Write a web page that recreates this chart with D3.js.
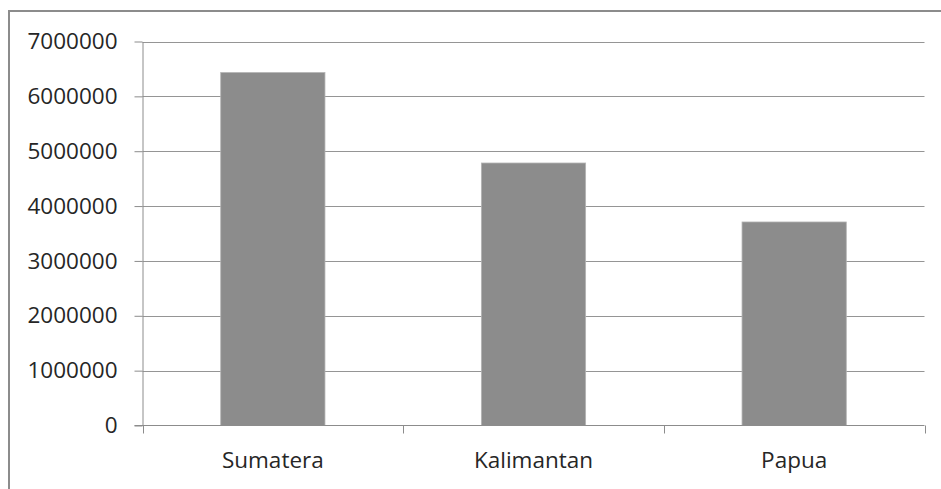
<!DOCTYPE html>
<html>
<head>
<meta charset="utf-8">
<script src="https://cdn.jsdelivr.net/npm/d3@7"></script>
<style>
  html, body { margin: 0; padding: 0; background: #fff; }
  svg { display: block; }
  text { font-family: "Open Sans", Carlito, Calibri, sans-serif; fill: #262626; }
</style>
</head>
<body>
<svg id="chart" width="941" height="489"></svg>
<script>
// Data
const categories = ["Sumatera", "Kalimantan", "Papua"];
const values = [6435000, 4785000, 3710000];
const yTicks = [0, 1000000, 2000000, 3000000, 4000000, 5000000, 6000000, 7000000];

const svg = d3.select("#chart");
const W = 941, H = 489;
const FONT = "'Open Sans', Carlito, Calibri, sans-serif";
const FS = 22.5;

// Chart frame (open to the right and bottom edges of the page)
svg.append("path")
  .attr("d", `M9,${H + 2} V11 H${W + 2}`)
  .attr("fill", "none")
  .attr("stroke", "#8c8c8c")
  .attr("stroke-width", 2);

const plot = { left: 142.5, right: 924.5, top: 41.5, bottom: 425.5 };

const x = d3.scaleBand()
  .domain(categories)
  .range([plot.left, plot.right])
  .paddingInner(0.6)
  .paddingOuter(0.3);

const y = d3.scaleLinear()
  .domain([0, 7000000])
  .range([plot.bottom, plot.top]);

// Horizontal gridlines
svg.append("g")
  .selectAll("line")
  .data(yTicks.filter(d => d > 0))
  .join("line")
  .attr("x1", plot.left)
  .attr("x2", plot.right)
  .attr("y1", d => Math.round(y(d)) + 0.5)
  .attr("y2", d => Math.round(y(d)) + 0.5)
  .attr("stroke", "#959595")
  .attr("stroke-width", 1);

// Bars
svg.append("g")
  .selectAll("rect")
  .data(categories.map((c, i) => ({ c, v: values[i] })))
  .join("rect")
  .attr("x", d => x(d.c))
  .attr("y", d => y(d.v))
  .attr("width", x.bandwidth())
  .attr("height", d => y(0) - y(d.v))
  .attr("fill", "#8c8c8c")
  .attr("stroke", "#b4b4b4")
  .attr("stroke-width", 0.8);

// Y axis
const yAxis = d3.axisLeft(y)
  .tickValues(yTicks)
  .tickFormat(d3.format("d"))
  .tickSize(8)
  .tickPadding(17)
  .tickSizeOuter(0);

const gy = svg.append("g")
  .attr("transform", `translate(${plot.left},0)`)
  .call(yAxis);
gy.select(".domain").attr("stroke", "#8c8c8c");
gy.selectAll(".tick line").attr("stroke", "#8c8c8c");
gy.selectAll(".tick text")
  .attr("font-size", FS)
  .attr("fill", "#262626")
  .style("font-family", FONT);

// X axis with boundary ticks between categories
const gx = svg.append("g")
  .attr("transform", `translate(0,${plot.bottom})`);
gx.append("line")
  .attr("x1", plot.left - 8).attr("x2", plot.right)
  .attr("stroke", "#8c8c8c");
const step = (plot.right - plot.left) / categories.length;
gx.selectAll(".bt")
  .data(d3.range(categories.length + 1))
  .join("line")
  .attr("class", "bt")
  .attr("x1", i => Math.round(plot.left + i * step) + 0.5)
  .attr("x2", i => Math.round(plot.left + i * step) + 0.5)
  .attr("y1", 0).attr("y2", 8)
  .attr("stroke", "#8c8c8c");
gx.selectAll(".lbl")
  .data(categories)
  .join("text")
  .attr("class", "lbl")
  .attr("x", d => x(d) + x.bandwidth() / 2)
  .attr("y", 42)
  .attr("text-anchor", "middle")
  .attr("font-size", FS)
  .style("font-family", FONT)
  .text(d => d);
</script>
</body>
</html>
